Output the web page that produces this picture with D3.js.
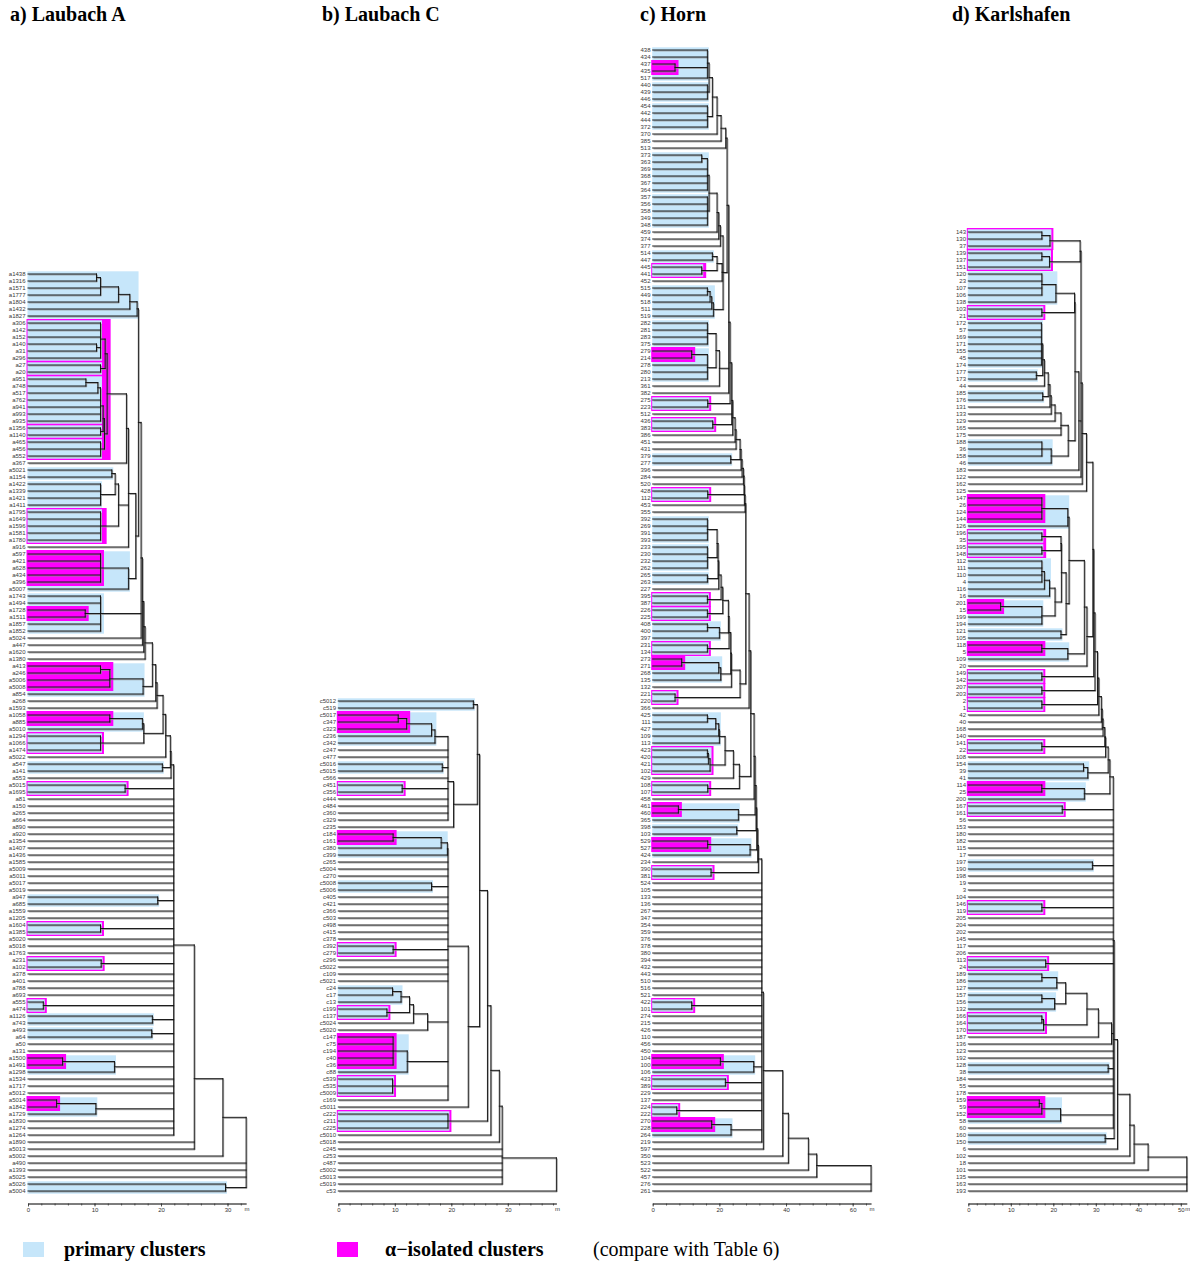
<!DOCTYPE html>
<html>
<head>
<meta charset="utf-8">
<script src="https://cdnjs.cloudflare.com/ajax/libs/d3/7.8.5/d3.min.js"></script>
<style>
  body { margin: 0; background: #fff; }
  .leaf-label { font-family: "Liberation Sans", Arial, sans-serif; font-size: 6px; fill: #3a3a3a; }
  .x-axis text, .unit { font-family: "Liberation Sans", Arial, sans-serif; font-size: 6px; fill: #333; }
  .x-axis path, .x-axis line { stroke: #333; stroke-width: 0.8; }
  .panel-title, .legend-text { font-family: "Liberation Serif", "Times New Roman", serif; font-size: 20px; fill: #000; }
  .panel-title, .legend-bold { font-weight: bold; }
</style>
</head>
<body>
<script>
// ---------- data: trees are nested [level, child, child, ...], leaves are labels ----------
var titles = ['a) Laubach A', 'b) Laubach C', 'c) Horn', 'd) Karlshafen'];

// a) Laubach A
var a_top = [16.4, [15.3, [13.6, [10.9, [10.3, 'a1438', 'a1316'], 'a1571', 'a1777'], 'a1804'], 'a1432'], 'a1827'];
var a_iso = [11.9,
  [11.6, [10.9, 'a306', 'a142', 'a152', [10.3, 'a140', 'a31'], 'a296'], [10.9, 'a27', 'a20']],
  [11.5, [11.3, [10.9, [10.5, [8.7, 'a951', 'a748'], 'a517'], 'a762', 'a941', 'a993', 'a935'], [10.9, 'a1356', 'a1140']],
    [10.9, 'a465', 'a456', 'a552']]];
var a_mid = [15.1, [14.8, a_iso, 'a367'],
  [13.6, [13.1, [12.6, 'a5021', 'a1154'], [10.9, 'a1422', 'a1339', 'a1421', 'a1411']],
    [10.9, 'a1795', 'a1649', 'a1596', 'a1581', 'a1780']],
  'a916'];
var a_upper = [17.6, [17.4, [17.2, [17.0,
  [16.6, a_top, [16.2, a_mid, [15.1, [10.9, 'a597', 'a421', 'a628', 'a434', 'a396'], 'a5007']]],
  [10.9, 'a1743', 'a1494', [8.6, 'a1728', 'a1511'], 'a1857', 'a1852'], 'a5024'], 'a447'], 'a1620'], 'a1380'];
var a_chain = [21.5, [21.4, [20.7, [20.3,
  [19.4, [19.2, [18.7, a_upper, [17.3, [12.3, [10.9, 'a413', 'a246'], 'a5006', 'a5008'], 'a854']], 'a268'], 'a1593'],
  [17.4, [17.2, [12.3, 'a1058', 'a885'], 'a5010'], [10.9, 'a1294', 'a1066', 'a1474']]],
  'a5022'], [20.2, 'a547', 'a141']], 'a553'];
var a_flat = [21.9, a_chain, [14.6, 'a5015', 'a1695'], 'a81', 'a150', 'a265', 'a664', 'a890', 'a920', 'a1354', 'a1407',
  'a1436', 'a1585', 'a5009', 'a5011', 'a5017', 'a5019', [19.5, 'a947', 'a685'], 'a1559', 'a1205', [10.9, 'a1604', 'a1385'],
  'a5020', 'a5018', 'a1763', [11.0, 'a231', 'a102'], 'a378', 'a401', 'a788', 'a693', [2.3, 'a555', 'a474'],
  [18.7, 'a1126', 'a743'], [18.6, 'a493', 'a64'], 'a50', 'a131', [13.0, [5.2, 'a1500', 'a1491'], 'a1298'],
  'a1534', 'a1717', 'a5012', [10.2, [4.3, 'a5014', 'a1842'], 'a1729'], 'a1830', 'a1274', 'a1264'];
var treeA = [32.8, [29.3, [25.0, a_flat, 'a1890', 'a5013'], 'a5002'], 'a490', 'a1393', 'a5025', [29.7, 'a5026', 'a5004']];
var primaryA = [['a1438', 'a1827', 16.4], ['a306', 'a296', 10.9], ['a27', 'a20', 10.9], ['a951', 'a935', 10.9],
  ['a1356', 'a1140', 10.9], ['a465', 'a552', 10.9], ['a5021', 'a1154', 12.6], ['a1422', 'a1411', 10.9],
  ['a1795', 'a1780', 10.9], ['a597', 'a5007', 15.1], ['a1743', 'a1852', 11.2], ['a413', 'a854', 17.3],
  ['a1058', 'a5010', 17.2], ['a1294', 'a1474', 10.9], ['a547', 'a141', 20.2], ['a5015', 'a1695', 14.6],
  ['a947', 'a685', 19.5], ['a1604', 'a1385', 10.9], ['a231', 'a102', 11.0], ['a555', 'a474', 2.3],
  ['a1126', 'a743', 18.7], ['a493', 'a64', 18.6], ['a1500', 'a1298', 13.0], ['a5014', 'a1729', 10.2],
  ['a5026', 'a5004', 29.7]];
var alphaA = [['a306', 'a552', 11.9], ['a1795', 'a1780', 11.3], ['a597', 'a396', 10.9], ['a1728', 'a1511', 8.6],
  ['a413', 'a5008', 12.3], ['a1058', 'a885', 12.3], ['a1294', 'a1474', 10.9], ['a5015', 'a1695', 14.6],
  ['a1604', 'a1385', 10.9], ['a231', 'a102', 11.0], ['a555', 'a474', 2.3], ['a1500', 'a1491', 5.2],
  ['a5014', 'a1842', 4.3]];

// b) Laubach C
var b_top = [24.6, [23.9, 'c5012', 'c519'],
  [20.4, [19.4, [17.1, [16.5, [12.1, [10.6, 'c5017', 'c347'], 'c323'], 'c236'], 'c342'], 'c247', 'c477',
    [18.4, 'c5016', 'c5015'], 'c566', [11.3, 'c451', 'c356'], 'c444', 'c484', 'c360', 'c329'], 'c235']];
var b_flat = [19.4, [19.3, [18.2, [9.7, 'c184', 'c161'], 'c380'], 'c399'], 'c265', 'c5004', 'c270',
  [16.5, 'c5008', 'c5006'], 'c405', 'c421', 'c366', 'c503', 'c498', 'c415', 'c378', [9.7, 'c392', 'c279'],
  'c296', 'c5022', 'c109', 'c5021',
  [15.8, [13.3, [12.6, [11.1, [9.6, 'c24', 'c17'], 'c13'], [8.6, 'c199', 'c137']], 'c5024'], 'c5020'],
  [12.2, [9.7, 'c147', 'c75', 'c194', 'c40', 'c36'], 'c88'], [9.6, 'c539', 'c535', 'c5009'], 'c169'];
var treeB = [38.6, [29.0, [28.5, [27.0, [26.4, [25.0, b_top, [23.0, b_flat, 'c5011']],
  [19.4, 'c222', 'c211', 'c225']], 'c5010'], 'c5018'], 'c245', 'c253', 'c487', 'c5002', 'c5013', 'c5019'], 'c53'];
var primaryB = [['c5012', 'c519', 23.9], ['c5017', 'c342', 17.1], ['c5016', 'c5015', 18.4], ['c451', 'c356', 11.3],
  ['c184', 'c399', 19.1], ['c5008', 'c5006', 16.5], ['c392', 'c279', 9.7], ['c24', 'c13', 11.1],
  ['c199', 'c137', 8.6], ['c147', 'c88', 12.2], ['c539', 'c5009', 9.6], ['c222', 'c225', 19.4]];
var alphaB = [['c5017', 'c323', 12.1], ['c451', 'c356', 11.3], ['c184', 'c161', 9.7], ['c392', 'c279', 9.7],
  ['c199', 'c137', 8.6], ['c147', 'c36', 9.7], ['c539', 'c5009', 9.6], ['c222', 'c225', 19.4]];

// c) Horn
var c_top = [22.3,
  [21.9, [20.5, [19.3, [17.9, [16.9, [16.4, '438', '434', [6.7, '437', '435'], '517'], [16.4, '440', '439', '446']],
    [16.4, '454', '442', '444', '372']], '370'], '385'], '513'],
  [21.1, [20.3, [19.8, [19.3, [16.9, [16.4, [14.7, '373', '363'], '369', '368', '367', '364'],
    [16.4, '357', '356', '358', '349', '348']], '459'], '374'], '377'],
    [20.8, [19.3, [17.9, '514', '447'], [14.7, '445', '441']], '452'],
    [18.2, [17.7, [17.2, [16.4, '515', '449'], '518'], '511'], '519']]];
var c_chain = [27.7, [27.5, [27.4, [27.2, [26.8, [26.5, [26.2, [25.0, [24.7, [24.0, [23.7, [23.2,
  [22.8, c_top, [20.0, [19.0, [16.4, '282', '281', '283', '375'], [16.4, [11.7, '279', '214'], '278', '280', '213']], '361'], '382'],
  [16.5, '275', '223']], '512', [18.0, '436', '383']], '386'], '451'], '431'], [23.4, '379', '277']], '396'], '284'], '520'],
  [16.5, '428', '112']], '453'], '355'];
var c_mid = [26.2, [23.6, [23.4, [22.9, [22.7, [21.0, [20.5, [19.8, [19.6,
  [19.3, [16.4, '392', '269', '391', '393'], [16.4, '233', '230', '232', '262']], [16.4, '265', '263']], '227'],
  [16.4, '395', '387']], [16.4, '226', '225']], [20.0, [16.4, '408', '400'], '397']], [16.4, '231', '134']],
  [20.4, [19.8, [8.7, '273', '271'], '268'], '135']], '132'], [6.7, '221', '220']];
var c_low = [26.0, [24.2, [21.7, [20.0, [19.8, [18.9, [16.4, '425', '111'], '427'], '109'], '113'],
  [17.2, [16.7, [16.4, '423', '420'], '421'], '102']], '429'], [16.5, '108', '107']];
var c_upper = [31.7, [31.5, [31.2, [31.0, [30.7, [30.4, [29.4, [28.9, [27.9, c_chain, c_mid], '366'], c_low], '458'],
  [25.7, [7.7, '461', '460'], '365']], [25.2, '398', '103']], [29.2, [16.5, '529', '527'], '424']], '234'],
  [17.5, '390', '381']];
var c_flat = [32.7, c_upper, '524', '105', '133', '136', '267', '347', '354', '359', '376', '378', '380', '394',
  '432', '443', '510', '516', '521', [11.7, '422', '101'], '274', '215', '426', '110', '456', '450',
  [30.3, [20.3, '104', '100'], '106'], [21.8, '433', '389'], '229', '137', [7.2, '224', '222'],
  [23.5, [17.7, '270', '228'], '264'], '219'];
var treeC = [65.5, [49.2, [46.7, [40.7, [39.0, [33.2, c_flat, '597'], '350'], '523'], '522'], '457'], '276', '261'];
var primaryC = [['438', '517', 16.4], ['440', '446', 16.4], ['454', '372', 16.4], ['373', '364', 16.4],
  ['357', '348', 16.4], ['514', '447', 17.9], ['445', '441', 14.7], ['515', '519', 18.2], ['282', '375', 16.4],
  ['279', '213', 16.4], ['275', '223', 16.5], ['436', '383', 18.0], ['379', '277', 23.4], ['428', '112', 16.5],
  ['392', '393', 16.4], ['233', '262', 16.4], ['265', '263', 16.4], ['395', '387', 16.4], ['226', '225', 16.4],
  ['408', '397', 20.0], ['231', '134', 16.4], ['273', '135', 20.4], ['221', '220', 6.7], ['425', '113', 20.0],
  ['423', '102', 17.2], ['108', '107', 16.5], ['461', '365', 25.7], ['398', '103', 25.2], ['529', '424', 29.2],
  ['390', '381', 17.5], ['422', '101', 11.7], ['104', '106', 30.3], ['433', '389', 21.8], ['224', '222', 7.2],
  ['270', '264', 23.5]];
var alphaC = [['437', '435', 6.7], ['445', '441', 15.0], ['279', '214', 11.7], ['275', '223', 16.5],
  ['436', '383', 18.0], ['428', '112', 16.5], ['395', '387', 16.4], ['226', '225', 16.4], ['231', '134', 16.4],
  ['273', '271', 8.7], ['221', '220', 6.7], ['423', '102', 17.2], ['108', '107', 16.5], ['461', '460', 7.7],
  ['529', '527', 16.5], ['390', '381', 17.5], ['422', '101', 11.7], ['104', '100', 20.3], ['433', '389', 21.8],
  ['224', '222', 7.2], ['270', '228', 17.7]];

// d) Karlshafen
var d_top = [27.8, [26.8, [26.5,
  [26.3, [19.2, [17.3, '143', '130'], '37'], [19.1, [17.3, '139', '137'], '151']],
  [26.0, [25.1, [25.0, [20.6, [17.3, '120', '23', '107', '106'], '138'], [17.3, '103', '21']],
    [23.5, [21.8, [20.4, [19.5, [19.2, [18.8, [17.9, [17.5, [17.2, '172', '57', '169', '171', '155', '45', '174'],
      [16.0, '177', '173']], '44'], [17.5, '185', '176']], '131'], '133'], '129'], '165', '175'],
      [19.5, [17.3, '188', '36', '158'], '46']]], '183'],
  '122'], '162'], '125'];
var d_mid = [27.9, [27.3, [23.7, [23.4, [17.3, '147', '26', '124', '144'], '126'],
  [23.0, [21.9, [21.8, [17.3, '196', '35'], [17.3, '195', '148']],
    [20.4, [19.1, [17.9, [17.3, '112', '111', '110', '4'], '116'], '16'], [17.3, [7.6, '201', '15'], '199', '194']]],
    [21.8, '121', '105']]],
  [23.4, [17.3, '118', '5'], '109']], '20'];
var d_chain = [33.3, [32.9, [32.3, [32.1, [31.7, [31.5, [31.3, [30.7, [30.4, [29.8, [29.5, [29.3, d_top, d_mid],
  [17.3, '149', '142']], [17.3, '207', '203']], [17.3, '2', '1']], '42'], '40'], '168'], '140'],
  [17.3, '141', '22']], '108'], [28.1, [27.1, '154', '39'], '41']], [27.3, [17.3, '114', '25'], '200']];
var d_sub = [33.7, [30.6, [27.9, [22.9, [20.8, [17.3, '189', '186'], '127'], [20.3, [17.3, '157', '156'], '132']],
  [17.7, [17.3, '166', '164'], '170']], '187'], '136'];
var d_flat = [34.1, d_chain, [22.1, '167', '161'], '56', '153', '180', '182', '115', '17', [29.2, '197', '190'],
  '198', '19', '3', '104', [17.3, '146', '119'], '205', '204', '202', '145', '117', '206', [18.2, '113', '24'],
  d_sub, '123', '192', [32.9, '128', '38'], '184', '55', '178', [21.7, [17.3, [16.7, '159', '59'], '152'], '58'], '60'];
var treeD = [51.4, [42.3, [39.0, [38.0, [35.1, [34.3, d_flat, [32.2, '160', '150']], '6'], '102'], '18'], '101'],
  '135', '163', '193'];
var primaryD = [['143', '37', 19.2], ['139', '151', 19.1], ['120', '138', 20.6], ['103', '21', 17.3],
  ['172', '174', 17.2], ['177', '173', 16.0], ['185', '176', 17.5], ['188', '46', 19.5], ['147', '126', 23.4],
  ['196', '35', 17.3], ['195', '148', 17.3], ['112', '16', 19.1], ['201', '194', 17.3], ['121', '105', 21.8],
  ['118', '109', 23.4], ['149', '142', 17.3], ['207', '203', 17.3], ['2', '1', 17.3], ['141', '22', 17.3],
  ['154', '41', 28.1], ['114', '200', 27.3], ['167', '161', 22.1], ['197', '190', 29.2], ['146', '119', 17.3],
  ['113', '24', 18.2], ['189', '127', 20.8], ['157', '132', 20.3], ['166', '170', 17.7], ['128', '38', 32.9],
  ['159', '58', 21.7], ['160', '150', 32.2]];
var alphaD = [['143', '37', 19.2], ['139', '151', 19.1], ['103', '21', 17.3], ['147', '144', 17.3],
  ['196', '148', 17.5], ['201', '15', 7.6], ['118', '5', 17.3], ['149', '142', 17.3], ['207', '203', 17.3],
  ['2', '1', 17.3], ['141', '22', 17.3], ['114', '25', 17.3], ['167', '161', 22.1], ['146', '119', 17.3],
  ['113', '24', 18.2], ['166', '170', 17.7], ['159', '152', 17.3]];

var legendLabels = ['primary clusters', 'α−isolated clusters', '(compare with Table 6)'];

// ---------- layout ----------
var BLUE = '#c6e6fa', MAGENTA = '#ff00ff';
var rowStep = 7, lastRowY = 1191, axisY = 1203.5;

var panels = [
  {title: titles[0], tree: treeA, primary: primaryA, alpha: alphaA, titleX: 10, labelX: 25.5, x0: 28, ppu: 6.65, major: 10, minor: 2},
  {title: titles[1], tree: treeB, primary: primaryB, alpha: alphaB, titleX: 322, labelX: 336, x0: 338.3, ppu: 5.65, major: 10, minor: 2},
  {title: titles[2], tree: treeC, primary: primaryC, alpha: alphaC, titleX: 640, labelX: 650.5, x0: 652.7, ppu: 3.333, major: 20, minor: 4},
  {title: titles[3], tree: treeD, primary: primaryD, alpha: alphaD, titleX: 952, labelX: 966, x0: 968.3, ppu: 4.25, major: 10, minor: 2}
];

var svg = d3.select('body').append('svg')
  .attr('width', 1190)
  .attr('height', 1262);

function drawPanel(p) {
  var root = d3.hierarchy(p.tree, function(d) { return Array.isArray(d) ? d.slice(1) : null; });
  var leaves = root.leaves().map(function(n) { return n.data; });
  var rootH = p.tree[0];

  var yScale = d3.scalePoint()
    .domain(leaves)
    .range([lastRowY - (leaves.length - 1) * rowStep, lastRowY]);
  var xScale = d3.scaleLinear()
    .domain([0, rootH])
    .range([p.x0, p.x0 + rootH * p.ppu]);

  function level(n) { return Array.isArray(n.data) ? n.data[0] : 0; }

  // parent sits at the mean of its children
  root.eachAfter(function(n) {
    n.yy = n.children ? d3.mean(n.children, function(c) { return c.yy; }) : yScale(n.data);
  });

  var g = svg.append('g').attr('class', 'panel');

  // title
  g.append('text')
    .attr('class', 'panel-title')
    .attr('x', p.titleX)
    .attr('y', 21)
    .text(p.title);

  // cluster boxes, biggest first so nested ones stay visible
  var boxes = [];
  p.primary.forEach(function(c) {
    boxes.push({x0: p.x0 - 0.5, x1: xScale(c[2]) + 1.5, y0: yScale(c[0]) - 2.7, y1: yScale(c[1]) + 2.7, fill: BLUE});
  });
  p.alpha.forEach(function(c) {
    boxes.push({x0: p.x0 - 1.5, x1: xScale(c[2]) + 3.5, y0: yScale(c[0]) - 4, y1: yScale(c[1]) + 4, fill: MAGENTA});
  });
  boxes.sort(function(a, b) {
    return (b.x1 - b.x0) * (b.y1 - b.y0) - (a.x1 - a.x0) * (a.y1 - a.y0);
  });
  g.selectAll('rect.box').data(boxes).enter()
    .append('rect')
    .attr('class', 'box')
    .attr('x', function(d) { return d.x0; })
    .attr('y', function(d) { return d.y0; })
    .attr('width', function(d) { return d.x1 - d.x0; })
    .attr('height', function(d) { return d.y1 - d.y0; })
    .attr('fill', function(d) { return d.fill; });

  // dendrogram segments
  var segs = [];
  root.each(function(n) {
    var x = xScale(level(n));
    if (n.parent) segs.push([x, n.yy, xScale(level(n.parent)), n.yy]);
    if (n.children) {
      segs.push([x, d3.min(n.children, function(c) { return c.yy; }), x, d3.max(n.children, function(c) { return c.yy; })]);
    }
  });

  // grey print shadow, then the dark line
  g.append('g').selectAll('line').data(segs).enter()
    .append('line')
    .attr('x1', function(d) { return d[0] + 0.8; })
    .attr('y1', function(d) { return d[1] + 0.9; })
    .attr('x2', function(d) { return d[2] + 0.8; })
    .attr('y2', function(d) { return d[3] + 0.9; })
    .attr('stroke', '#8f8f8f')
    .attr('stroke-width', 0.9);
  g.append('g').selectAll('line').data(segs).enter()
    .append('line')
    .attr('x1', function(d) { return d[0]; })
    .attr('y1', function(d) { return d[1]; })
    .attr('x2', function(d) { return d[2]; })
    .attr('y2', function(d) { return d[3]; })
    .attr('stroke', '#111')
    .attr('stroke-width', 0.95)
    .attr('stroke-linecap', 'square');

  // leaf labels
  g.append('g').selectAll('text').data(leaves).enter()
    .append('text')
    .attr('class', 'leaf-label')
    .attr('x', p.labelX)
    .attr('y', function(d) { return yScale(d); })
    .attr('dy', '0.36em')
    .attr('text-anchor', 'end')
    .text(function(d) { return d; });

  // distance axis: minor ticks, then labelled major ticks
  var ax = g.append('g')
    .attr('class', 'x-axis')
    .attr('transform', 'translate(0,' + axisY + ')');
  ax.append('g').call(d3.axisBottom(xScale)
    .tickValues(d3.range(0, rootH + 0.001, p.minor))
    .tickSize(2).tickSizeOuter(0).tickFormat(''));
  ax.append('g').call(d3.axisBottom(xScale)
    .tickValues(d3.range(0, rootH + 0.001, p.major))
    .tickSize(3).tickSizeOuter(0).tickPadding(1).tickFormat(d3.format('d')));
  ax.selectAll('.domain').attr('stroke', '#333');
  ax.append('text')
    .attr('class', 'unit')
    .attr('x', xScale(rootH) + 1)
    .attr('y', 7)
    .attr('text-anchor', 'middle')
    .text('m');
}

panels.forEach(drawPanel);

// legend
var legend = svg.append('g').attr('class', 'legend');
legend.append('rect').attr('x', 23).attr('y', 1242).attr('width', 21).attr('height', 15).attr('fill', BLUE);
legend.append('text').attr('class', 'legend-text legend-bold').attr('x', 64).attr('y', 1256).text(legendLabels[0]);
legend.append('rect').attr('x', 337).attr('y', 1242).attr('width', 21).attr('height', 15).attr('fill', MAGENTA);
legend.append('text').attr('class', 'legend-text legend-bold').attr('x', 385).attr('y', 1256).text(legendLabels[1]);
legend.append('text').attr('class', 'legend-text').attr('x', 593).attr('y', 1256).text(legendLabels[2]);
</script>
</body>
</html>
